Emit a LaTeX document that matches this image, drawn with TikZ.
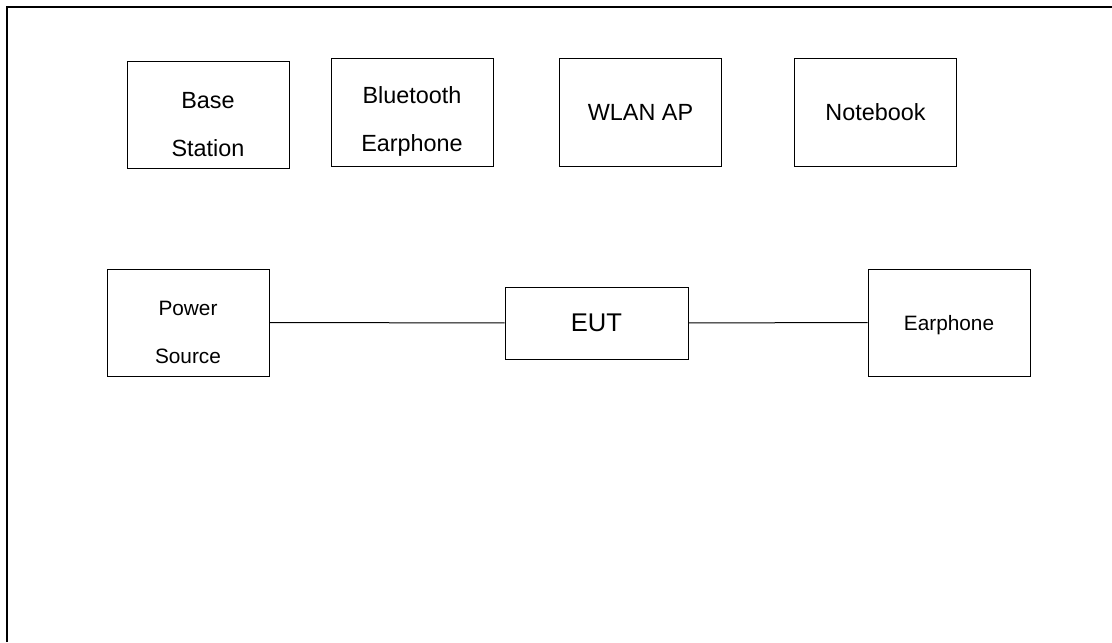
\documentclass[tikz,border=0pt]{standalone}
\usepackage{fontspec}
\setmainfont{Liberation Sans}
\usepackage{tikz}
\usetikzlibrary{positioning}
\newcommand{\lowertext}{\rule{0pt}{17.5pt}}
\tikzset{
setup/.style={x=0.5pt,y=-0.5pt,line width=0.5pt},
device/.style={rectangle,draw,align=center,inner sep=0pt,
minimum width=81pt,minimum height=53.5pt,
font=\fontsize{11.7}{24}\selectfont},
small device/.style={device,font=\fontsize{10.4}{24}\selectfont},
eut box/.style={device,minimum width=91.5pt,minimum height=36pt,
font=\fontsize{12.8}{15}\selectfont},
frame/.style={line width=1.1pt},
}
\begin{document}
\begin{tikzpicture}[setup]
                    \useasboundingbox (0,0) rectangle (1112,642);
                    \draw[frame] (7,642) -- (7,7) -- (1112,7);

                    \node[device] (bs) at (208,115) {\lowertext Base\\Station};
                    \node[device] (bt) at (412,112.5) {\lowertext Bluetooth\\Earphone};
                    \node[device,text depth=0pt] (ap) at (640.5,112.5) {WLAN AP};
                    \node[device,text depth=0pt] (nb) at (875.5,112.5) {Notebook};

                    \node[small device] (ps) at (188,322.5) {\lowertext Power\\Source};
                    \node[eut box] (eut) at (596.5,323) {EUT};
                    \node[small device,text depth=0pt] (ep) at (949,322.5) {Earphone};

                    \draw (ps) -- (eut);
                    \draw (eut) -- (ep);
                \end{tikzpicture}
\end{document}
